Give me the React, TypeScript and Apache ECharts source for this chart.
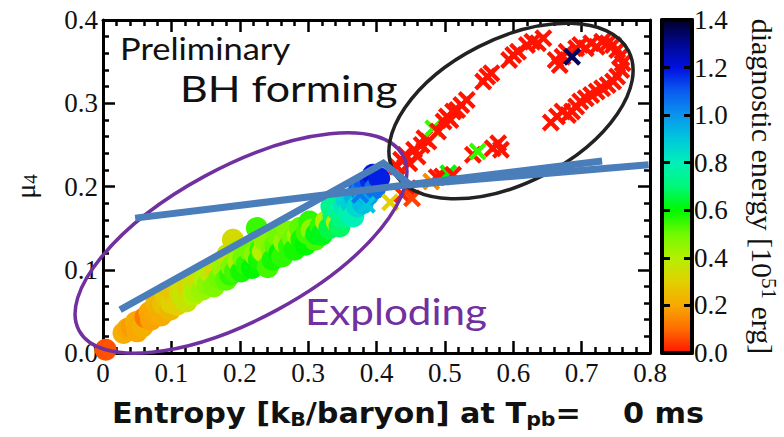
import { useEffect, useRef } from "react";
import * as echarts from "echarts";

// Exploding progenitors: [entropy (kB/baryon), mu4, diagnostic energy (1e51 erg)]
const explodingModels: number[][] = [
  [0.004, 0.004, 0.07],
  [0.030, 0.024, 0.22],
  [0.036, 0.029, 0.20],
  [0.042, 0.031, 0.18],
  [0.048, 0.037, 0.21],
  [0.050, 0.026, 0.20],
  [0.055, 0.039, 0.20],
  [0.058, 0.032, 0.22],
  [0.062, 0.043, 0.12],
  [0.068, 0.049, 0.20],
  [0.070, 0.040, 0.19],
  [0.075, 0.047, 0.20],
  [0.078, 0.060, 0.24],
  [0.082, 0.053, 0.22],
  [0.085, 0.045, 0.21],
  [0.088, 0.059, 0.26],
  [0.092, 0.072, 0.30],
  [0.094, 0.064, 0.28],
  [0.098, 0.052, 0.24],
  [0.100, 0.060, 0.31],
  [0.105, 0.069, 0.27],
  [0.108, 0.058, 0.30],
  [0.112, 0.073, 0.33],
  [0.115, 0.082, 0.34],
  [0.118, 0.066, 0.38],
  [0.122, 0.062, 0.36],
  [0.125, 0.077, 0.30],
  [0.130, 0.081, 0.36],
  [0.132, 0.070, 0.40],
  [0.136, 0.074, 0.42],
  [0.138, 0.092, 0.36],
  [0.142, 0.085, 0.34],
  [0.145, 0.076, 0.44],
  [0.148, 0.089, 0.40],
  [0.153, 0.082, 0.46],
  [0.156, 0.098, 0.40],
  [0.160, 0.093, 0.38],
  [0.162, 0.080, 0.48],
  [0.165, 0.099, 0.32],
  [0.170, 0.090, 0.50],
  [0.172, 0.108, 0.42],
  [0.176, 0.101, 0.44],
  [0.180, 0.088, 0.52],
  [0.182, 0.118, 0.36],
  [0.186, 0.094, 0.56],
  [0.188, 0.104, 0.48],
  [0.190, 0.136, 0.33],
  [0.193, 0.098, 0.54],
  [0.196, 0.122, 0.46],
  [0.198, 0.110, 0.42],
  [0.202, 0.098, 0.58],
  [0.205, 0.114, 0.50],
  [0.210, 0.106, 0.56],
  [0.214, 0.124, 0.50],
  [0.218, 0.102, 0.60],
  [0.222, 0.118, 0.46],
  [0.225, 0.150, 0.55],
  [0.228, 0.112, 0.58],
  [0.230, 0.124, 0.56],
  [0.234, 0.122, 0.40],
  [0.236, 0.136, 0.46],
  [0.241, 0.103, 0.54],
  [0.246, 0.126, 0.48],
  [0.248, 0.112, 0.58],
  [0.252, 0.130, 0.52],
  [0.256, 0.140, 0.50],
  [0.258, 0.120, 0.60],
  [0.262, 0.116, 0.56],
  [0.265, 0.133, 0.44],
  [0.270, 0.146, 0.48],
  [0.272, 0.128, 0.56],
  [0.278, 0.137, 0.50],
  [0.280, 0.124, 0.58],
  [0.285, 0.141, 0.42],
  [0.288, 0.150, 0.52],
  [0.290, 0.136, 0.58],
  [0.296, 0.130, 0.60],
  [0.298, 0.144, 0.54],
  [0.302, 0.158, 0.56],
  [0.305, 0.148, 0.46],
  [0.310, 0.136, 0.54],
  [0.312, 0.143, 0.62],
  [0.318, 0.152, 0.56],
  [0.320, 0.142, 0.62],
  [0.326, 0.158, 0.40],
  [0.331, 0.150, 0.66],
  [0.334, 0.176, 0.74],
  [0.337, 0.165, 0.70],
  [0.342, 0.157, 0.40],
  [0.344, 0.171, 0.76],
  [0.346, 0.152, 0.68],
  [0.350, 0.162, 0.72],
  [0.353, 0.176, 0.82],
  [0.356, 0.184, 0.86],
  [0.359, 0.169, 0.78],
  [0.363, 0.180, 0.88],
  [0.366, 0.164, 0.80],
  [0.368, 0.188, 0.94],
  [0.372, 0.176, 0.86],
  [0.375, 0.200, 1.08],
  [0.378, 0.194, 1.02],
  [0.380, 0.180, 0.92],
  [0.383, 0.201, 1.10],
  [0.388, 0.190, 0.98],
  [0.392, 0.206, 1.16],
  [0.395, 0.214, 1.20],
  [0.398, 0.198, 1.06],
  [0.404, 0.210, 1.18],
];

// Black-hole forming progenitors: [entropy, mu4, diagnostic energy]
const bhFormingModels: number[][] = [
  [0.386, 0.178, 0.90],
  [0.376, 0.190, 1.05],
  [0.420, 0.181, 0.30],
  [0.438, 0.190, 0.02],
  [0.446, 0.198, 0.00],
  [0.452, 0.186, 0.05],
  [0.430, 0.224, 0.00],
  [0.436, 0.232, 0.00],
  [0.442, 0.238, 0.00],
  [0.448, 0.228, 0.00],
  [0.455, 0.244, 0.00],
  [0.460, 0.236, 0.00],
  [0.466, 0.250, 0.00],
  [0.470, 0.258, 0.00],
  [0.476, 0.254, 0.00],
  [0.483, 0.270, 0.55],
  [0.490, 0.266, 0.00],
  [0.498, 0.278, 0.00],
  [0.503, 0.284, 0.00],
  [0.508, 0.280, 0.00],
  [0.512, 0.290, 0.00],
  [0.518, 0.292, 0.00],
  [0.524, 0.298, 0.00],
  [0.532, 0.304, 0.00],
  [0.556, 0.326, 0.00],
  [0.562, 0.332, 0.00],
  [0.568, 0.336, 0.00],
  [0.594, 0.352, 0.00],
  [0.600, 0.358, 0.00],
  [0.607, 0.362, 0.00],
  [0.620, 0.370, 0.00],
  [0.628, 0.374, 0.00],
  [0.636, 0.372, 0.00],
  [0.644, 0.378, 0.00],
  [0.662, 0.352, 0.00],
  [0.668, 0.346, 0.00],
  [0.672, 0.356, 0.00],
  [0.678, 0.362, 0.00],
  [0.692, 0.366, 0.00],
  [0.698, 0.370, 0.00],
  [0.706, 0.366, 0.00],
  [0.714, 0.372, 0.00],
  [0.722, 0.368, 0.00],
  [0.730, 0.374, 0.00],
  [0.738, 0.372, 0.00],
  [0.746, 0.370, 0.00],
  [0.752, 0.364, 0.00],
  [0.756, 0.356, 0.00],
  [0.760, 0.348, 0.00],
  [0.758, 0.340, 0.00],
  [0.752, 0.332, 0.00],
  [0.746, 0.326, 0.00],
  [0.738, 0.322, 0.00],
  [0.730, 0.318, 0.00],
  [0.722, 0.314, 0.00],
  [0.714, 0.310, 0.00],
  [0.706, 0.306, 0.00],
  [0.698, 0.302, 0.00],
  [0.692, 0.296, 0.00],
  [0.686, 0.290, 0.00],
  [0.680, 0.286, 0.00],
  [0.672, 0.290, 0.00],
  [0.664, 0.284, 0.00],
  [0.655, 0.277, 0.00],
  [0.541, 0.238, 0.00],
  [0.548, 0.242, 0.55],
  [0.570, 0.246, 0.00],
  [0.578, 0.252, 0.00],
  [0.582, 0.244, 0.00],
  [0.480, 0.206, 0.15],
  [0.488, 0.211, 0.00],
  [0.496, 0.212, 0.00],
  [0.505, 0.216, 0.60],
  [0.512, 0.214, 0.00],
  [0.686, 0.356, 1.35],
];

// Hand-drawn trend lines, in data units
const trendLineUpper: number[][] = [
  [0.047, 0.162],
  [0.730, 0.2306],
];
const trendLineLower: number[][] = [
  [0.025, 0.052],
  [0.410, 0.228],
  [0.449, 0.202],
  [0.798, 0.226],
];

// Colour scale of the diagnostic energy, one stop every 0.1 from 0.0 to 1.4
const energyColors = [
  "#ff1400",
  "#ff6c00",
  "#f8a800",
  "#e2d000",
  "#b4f000",
  "#70fa00",
  "#00f800",
  "#00f878",
  "#00f0b8",
  "#00c8dc",
  "#0a94ee",
  "#0a5cf0",
  "#0010e0",
  "#000890",
  "#000028",
];

const ENERGY_MIN = 0;
const ENERGY_MAX = 1.4;

const SERIF = '"Liberation Serif", "Times New Roman", serif';
const SANS = 'Lato, "Open Sans", sans-serif';
const BOLD_SANS = '"DejaVu Sans", sans-serif';

// X-shaped marker for black-hole forming models
const CROSS =
  "path://M0,2 L2,0 L6,4 L10,0 L12,2 L8,6 L12,10 L10,12 L6,8 L2,12 L0,10 L4,6 Z";

export default function App() {
  const ref = useRef<HTMLDivElement>(null);

  useEffect(() => {
    if (!ref.current) return;
    const chart = echarts.init(ref.current, undefined, { renderer: "svg" });

    const tickStyle = { color: "#000", width: 2.5 };
    const frameAxis = (position: string, labels: boolean, kind: "x" | "y") => ({
      gridIndex: 0,
      type: "value",
      min: 0,
      max: kind === "x" ? 0.8 : 0.4,
      interval: 0.1,
      position,
      axisLine: { show: true, onZero: false, lineStyle: { color: "#000", width: 3 } },
      axisTick: { show: true, inside: true, length: 12, lineStyle: tickStyle },
      minorTick: { show: true, splitNumber: 5, length: 6, lineStyle: tickStyle },
      splitLine: { show: false },
      minorSplitLine: { show: false },
      axisLabel: labels
        ? {
            show: true,
            margin: kind === "x" ? 6 : 5,
            fontFamily: SERIF,
            fontSize: 27,
            color: "#111",
            formatter: (v: number) =>
              kind === "x" && Math.abs(v) < 1e-9 ? "0" : v.toFixed(1),
          }
        : { show: false },
    });

    const barTicks = { color: "#000", width: 3 };

    const annotation = (
      text: string,
      x: number,
      y: number,
      fontSize: number,
      fill: string,
      scaleX: number
    ) => ({
      type: "text",
      x,
      y,
      scaleX,
      style: {
        text,
        fontFamily: SANS,
        fontSize,
        fill,
        textVerticalAlign: "middle",
        verticalAlign: "middle",
      },
      z: 8,
    });

    chart.setOption({
      animation: false,
      backgroundColor: "#ffffff",
      grid: [
        { left: 103, top: 20, width: 547, height: 333 },
        { left: 662, top: 20, width: 30, height: 333 },
      ],
      xAxis: [
        frameAxis("bottom", true, "x"),
        frameAxis("top", false, "x"),
        {
          gridIndex: 1,
          type: "category",
          data: ["E"],
          position: "bottom",
          axisLine: { show: true, onZero: false, lineStyle: { color: "#000", width: 4 } },
          axisTick: { show: false },
          axisLabel: { show: false },
          z: 10,
        },
        {
          gridIndex: 1,
          type: "category",
          data: ["E"],
          position: "top",
          axisLine: { show: true, onZero: false, lineStyle: { color: "#000", width: 4 } },
          axisTick: { show: false },
          axisLabel: { show: false },
          z: 10,
        },
      ],
      yAxis: [
        {
          ...frameAxis("left", true, "y"),
          name: "{m|μ}{s|4}",
          nameLocation: "middle",
          nameRotate: 90,
          nameGap: 63,
          nameTextStyle: {
            fontFamily: SERIF,
            fontSize: 28,
            color: "#111",
            rich: {
              m: { fontFamily: SERIF, fontSize: 28, lineHeight: 30, color: "#111" },
              s: {
                fontFamily: SERIF,
                fontSize: 19,
                lineHeight: 14,
                verticalAlign: "bottom",
                color: "#111",
              },
            },
          },
        },
        frameAxis("right", false, "y"),
        {
          gridIndex: 1,
          type: "value",
          min: ENERGY_MIN,
          max: ENERGY_MAX,
          interval: 0.2,
          position: "right",
          axisLine: { show: true, onZero: false, lineStyle: { color: "#000", width: 4 } },
          axisTick: { show: true, inside: true, length: 8, lineStyle: barTicks },
          splitLine: { show: false },
          axisLabel: {
            margin: 2,
            fontFamily: SERIF,
            fontSize: 27,
            color: "#111",
            formatter: (v: number) => v.toFixed(1),
          },
          name: "diagnostic energy [10{sup|51} erg]",
          nameLocation: "middle",
          nameRotate: -90,
          nameGap: 53,
          nameTextStyle: {
            fontFamily: SERIF,
            fontSize: 30,
            color: "#111",
            lineHeight: 34,
            rich: {
              sup: {
                fontFamily: SERIF,
                fontSize: 21,
                lineHeight: 16,
                verticalAlign: "top",
                color: "#111",
              },
            },
          },
          z: 10,
        },
        {
          gridIndex: 1,
          type: "value",
          min: ENERGY_MIN,
          max: ENERGY_MAX,
          interval: 0.2,
          position: "left",
          axisLine: { show: true, onZero: false, lineStyle: { color: "#000", width: 4 } },
          axisTick: { show: true, inside: true, length: 8, lineStyle: barTicks },
          splitLine: { show: false },
          axisLabel: { show: false },
          z: 10,
        },
      ],
      visualMap: {
        show: false,
        type: "continuous",
        min: ENERGY_MIN,
        max: ENERGY_MAX,
        dimension: 2,
        seriesIndex: [0, 1],
        inRange: { color: energyColors },
      },
      series: [
        {
          type: "scatter",
          name: "Exploding",
          xAxisIndex: 0,
          yAxisIndex: 0,
          data: explodingModels,
          symbol: "circle",
          symbolSize: 22,
          itemStyle: { opacity: 1 },
          z: 2,
          silent: true,
        },
        {
          type: "scatter",
          name: "BH forming",
          xAxisIndex: 0,
          yAxisIndex: 0,
          data: bhFormingModels,
          symbol: CROSS,
          symbolSize: 18,
          itemStyle: { opacity: 1 },
          z: 3,
          silent: true,
        },
        {
          type: "line",
          xAxisIndex: 0,
          yAxisIndex: 0,
          data: trendLineUpper,
          symbol: "none",
          showSymbol: false,
          lineStyle: { color: "#4a7ebb", width: 7, cap: "butt" },
          z: 6,
          silent: true,
        },
        {
          type: "line",
          xAxisIndex: 0,
          yAxisIndex: 0,
          data: trendLineLower,
          symbol: "none",
          showSymbol: false,
          lineStyle: { color: "#4a7ebb", width: 7, cap: "butt", join: "miter" },
          z: 6,
          silent: true,
        },
        {
          type: "bar",
          xAxisIndex: 2,
          yAxisIndex: 2,
          data: [ENERGY_MAX],
          barWidth: "100%",
          itemStyle: {
            color: new echarts.graphic.LinearGradient(
              0,
              1,
              0,
              0,
              energyColors.map((c, i) => ({ offset: i / (energyColors.length - 1), color: c }))
            ),
          },
          z: 1,
          silent: true,
        },
      ],
      graphic: [
        {
          type: "ellipse",
          x: 241,
          y: 243,
          rotation: (28.4 * Math.PI) / 180,
          shape: { cx: 0, cy: 0, rx: 184, ry: 76 },
          style: { fill: "none", stroke: "#7030a0", lineWidth: 3.5 },
          z: 5,
          silent: true,
        },
        {
          type: "ellipse",
          x: 511,
          y: 111,
          rotation: (27 * Math.PI) / 180,
          shape: { cx: 0, cy: 0, rx: 132, ry: 72 },
          style: { fill: "none", stroke: "#222222", lineWidth: 3.5 },
          z: 5,
          silent: true,
        },
        annotation("Preliminary", 120, 48, 30, "#111", 1.15),
        annotation("BH forming", 180, 88, 37, "#111", 1.16),
        annotation("Exploding", 305, 311, 37, "#7030a0", 1.14),
        {
          type: "text",
          x: 112,
          y: 413,
          scaleX: 1.08,
          style: {
            text: "Entropy [k{sub|B}/baryon] at T{sub|pb}=    0 ms",
            fontFamily: BOLD_SANS,
            fontWeight: "bold",
            fontSize: 28,
            lineHeight: 32,
            fill: "#111",
            textVerticalAlign: "middle",
            verticalAlign: "middle",
            rich: {
              sub: {
                fontFamily: BOLD_SANS,
                fontWeight: "bold",
                fontSize: 19,
                lineHeight: 14,
                verticalAlign: "bottom",
                fill: "#111",
              },
            },
          },
          z: 8,
        },
      ],
    });

    return () => chart.dispose();
  }, []);

  return (
    <div
      ref={ref}
      style={{ position: "fixed", left: 0, top: 0, width: 784, height: 437, background: "#fff" }}
    />
  );
}
